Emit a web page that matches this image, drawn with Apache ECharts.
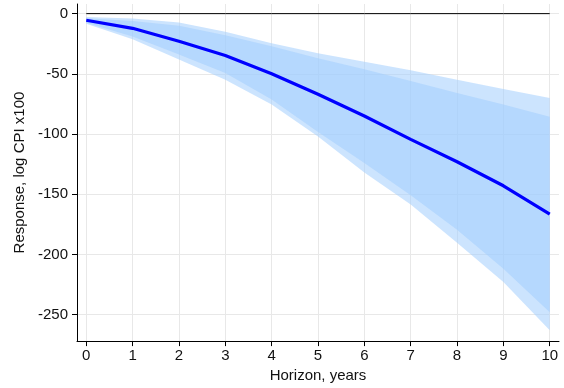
<!DOCTYPE html>
<html>
<head>
<meta charset="utf-8">
<script src="https://cdn.jsdelivr.net/npm/echarts@6/dist/echarts.min.js"></script>
<style>html,body{margin:0;padding:0;background:#fff}#c{width:564px;height:388px}</style>
</head>
<body>
<div id="c"></div>
<script>
const horizon = [0, 1, 2, 3, 4, 5, 6, 7, 8, 9, 10];
const irf     = [-5.5, -12.2, -23, -34.8, -50, -67, -85, -104.4, -123, -143, -166.6];
const upper90 = [-2.9, -4, -7.3, -15, -24.5, -33, -40, -47, -55, -62.6, -70];
const upper68 = [-3.8, -6.2, -10, -18, -27, -37, -46.3, -56, -66, -75.5, -85.6];
const lower68 = [-7.5, -19, -34, -49.4, -71.4, -98.3, -124, -150.8, -179.5, -212, -248];
const lower90 = [-8.5, -21.3, -38, -55, -75.5, -102, -132, -158.5, -190.4, -223, -263];
const zeroLine = [0, 0, 0, 0, 0, 0, 0, 0, 0, 0, 0];
const yTicks = [0, -50, -100, -150, -200, -250];
const xTicks = horizon;

const FONT = 'Liberation Sans, Arial, Helvetica, sans-serif';
const bandColor = 'rgba(162,206,254,0.55)';

function bandSeries(lower, upper) {
  return {
    type: 'custom',
    silent: true,
    z: 1,
    encode: { x: 0, y: [1, 2] },
    data: horizon.map((h, i) => [h, lower[i], upper[i]]),
    renderItem: function (params, api) {
      if (params.dataIndex !== 0) return null;
      const pts = [];
      for (let i = 0; i < horizon.length; i++) pts.push(api.coord([horizon[i], upper[i]]));
      for (let i = horizon.length - 1; i >= 0; i--) pts.push(api.coord([horizon[i], lower[i]]));
      return { type: 'polygon', shape: { points: pts }, style: { fill: bandColor } };
    }
  };
}

const chart = echarts.init(document.getElementById('c'), null, { renderer: 'canvas' });
chart.setOption({
  animation: false,
  backgroundColor: '#fff',
  textStyle: { fontFamily: FONT },
  grid: { left: 77, right: 5, top: 4, bottom: 44, containLabel: false },
  xAxis: {
    type: 'value', min: -0.2, max: 10.2,
    name: 'Horizon, years', nameLocation: 'middle', nameGap: 24,
    nameTextStyle: { fontSize: 15, color: '#111', fontFamily: FONT },
    axisLine: { show: true, onZero: false, lineStyle: { color: '#000', width: 1 } },
    axisTick: { show: true, length: 5, customValues: xTicks, lineStyle: { color: '#000' } },
    axisLabel: { customValues: xTicks, fontSize: 15, color: '#111', margin: 7, fontFamily: FONT },
    splitLine: { show: true, lineStyle: { color: '#e8e8e8', width: 1 } }
  },
  yAxis: {
    type: 'value', min: -272, max: 8,
    name: 'Response, log CPI x100', nameLocation: 'middle', nameGap: 49, nameRotate: 90,
    nameTextStyle: { fontSize: 15, color: '#111', fontFamily: FONT },
    axisLine: { show: true, onZero: false, lineStyle: { color: '#000', width: 1 } },
    axisTick: { show: true, length: 5, customValues: yTicks, lineStyle: { color: '#000' } },
    axisLabel: { customValues: yTicks, fontSize: 15, color: '#111', margin: 9, fontFamily: FONT },
    splitLine: { show: true, lineStyle: { color: '#e8e8e8', width: 1 } }
  },
  series: [
    bandSeries(lower90, upper90),
    bandSeries(lower68, upper68),
    {
      type: 'line', z: 3, silent: true, symbol: 'none',
      data: horizon.map((h, i) => [h, zeroLine[i]]),
      lineStyle: { color: '#000', width: 1 }
    },
    {
      type: 'line', z: 4, silent: true, symbol: 'none',
      data: horizon.map((h, i) => [h, irf[i]]),
      lineStyle: { color: '#0000ff', width: 3.2 }
    }
  ]
});
</script>
</body>
</html>
